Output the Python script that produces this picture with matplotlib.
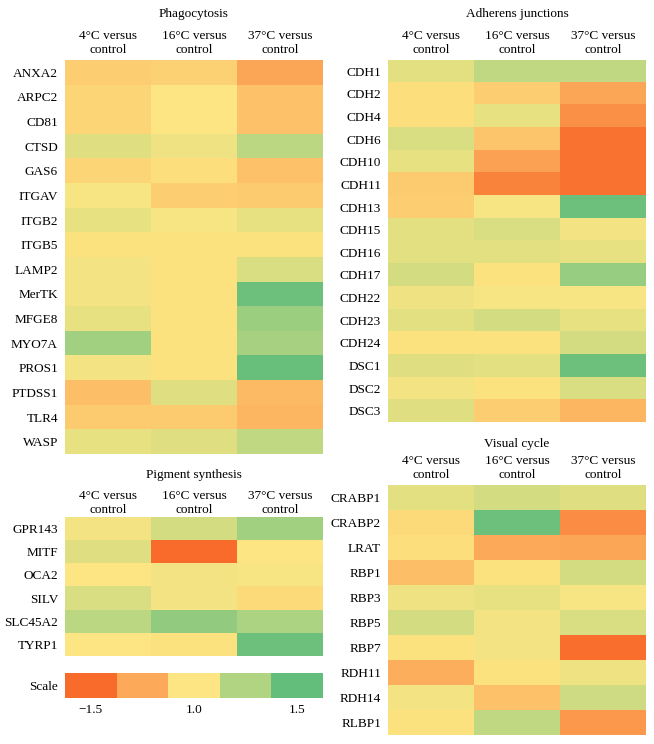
import numpy as np
import matplotlib
matplotlib.use("Agg")
import matplotlib.pyplot as plt
from matplotlib.colors import LinearSegmentedColormap

plt.rcParams['font.family'] = ['Liberation Serif', 'DejaVu Serif']
plt.rcParams['font.size'] = 9.5

W, H = 654, 744

columnas = ['4°C versus\ncontrol', '16°C versus\ncontrol', '37°C versus\ncontrol']

# valores: -1.5 = naranja (baja), 0 = amarillo (1.0), 1.5 = verde (sube)
genes_fago = ['ANXA2', 'ARPC2', 'CD81', 'CTSD', 'GAS6', 'ITGAV', 'ITGB2', 'ITGB5',
              'LAMP2', 'MerTK', 'MFGE8', 'MYO7A', 'PROS1', 'PTDSS1', 'TLR4', 'WASP']
val_fago = [[-0.30, -0.25, -0.80],
            [-0.20, 0.00, -0.45],
            [-0.20, 0.00, -0.45],
            [0.30, 0.15, 0.65],
            [-0.20, -0.10, -0.45],
            [0.05, -0.30, -0.35],
            [0.20, 0.05, 0.20],
            [-0.05, -0.05, -0.05],
            [0.10, -0.05, 0.35],
            [0.10, -0.05, 1.40],
            [0.20, -0.05, 0.95],
            [0.90, -0.05, 0.85],
            [0.10, -0.05, 1.45],
            [-0.50, 0.30, -0.55],
            [-0.35, -0.35, -0.60],
            [0.20, 0.30, 0.60]]

genes_adh = ['CDH1', 'CDH2', 'CDH4', 'CDH6', 'CDH10', 'CDH11', 'CDH13', 'CDH15',
             'CDH16', 'CDH17', 'CDH22', 'CDH23', 'CDH24', 'DSC1', 'DSC2', 'DSC3']
val_adh = [[0.25, 0.60, 0.60],
           [-0.10, -0.30, -0.80],
           [-0.10, 0.20, -1.05],
           [0.35, -0.40, -1.40],
           [0.20, -0.85, -1.40],
           [-0.35, -1.20, -1.40],
           [-0.30, 0.05, 1.40],
           [0.25, 0.35, 0.10],
           [0.25, 0.25, 0.20],
           [0.40, -0.05, 1.00],
           [0.15, 0.05, 0.05],
           [0.25, 0.40, 0.20],
           [-0.05, -0.05, 0.40],
           [0.30, 0.25, 1.40],
           [0.10, -0.05, 0.35],
           [0.30, -0.30, -0.60]]

genes_pig = ['GPR143', 'MITF', 'OCA2', 'SILV', 'SLC45A2', 'TYRP1']
val_pig = [[0.10, 0.40, 0.90],
           [0.30, -1.50, 0.00],
           [0.00, 0.10, 0.05],
           [0.35, 0.10, -0.15],
           [0.65, 1.05, 0.80],
           [0.00, -0.05, 1.40]]

genes_vis = ['CRABP1', 'CRABP2', 'LRAT', 'RBP1', 'RBP3', 'RBP5', 'RBP7', 'RDH11',
             'RDH14', 'RLBP1']
val_vis = [[0.25, 0.40, 0.30],
           [-0.15, 1.40, -1.10],
           [-0.10, -0.75, -0.80],
           [-0.50, -0.05, 0.40],
           [0.15, 0.20, 0.05],
           [0.40, 0.10, 0.35],
           [-0.05, 0.10, -1.45],
           [-0.70, -0.05, 0.15],
           [0.10, -0.45, 0.45],
           [-0.05, 0.60, -0.95]]

escala_val = [-1.5, -0.75, 0.0, 0.75, 1.5]
escala_etiquetas = ['\u22121.5', '1.0', '1.5']

cmap = LinearSegmentedColormap.from_list(
    'naranja_verde', ['#F96B2A', '#FCAA5A', '#FDE682', '#B2D583', '#63BE7B'])


def ejes_px(x0, y0, x1, y1):
    return plt.gcf().add_axes([x0 / W, 1 - y1 / H, (x1 - x0) / W, (y1 - y0) / H])


def dibujar_panel(caja, genes, valores, titulo, sep_titulo, pad_etq):
    ax = ejes_px(*caja)
    ax.imshow(np.array(valores), cmap=cmap, vmin=-1.5, vmax=1.5, aspect='auto',
              interpolation='nearest')
    ax.set_yticks(range(len(genes)))
    ax.set_yticklabels(genes)
    ax.set_xticks(range(3))
    ax.set_xticklabels(columnas, linespacing=1.2)
    ax.xaxis.tick_top()
    ax.tick_params(length=0, pad=pad_etq)
    ax.tick_params(axis='y', pad=5)
    for s in ax.spines.values():
        s.set_visible(False)
    ax.annotate(titulo, xy=(0.5, 1), xycoords='axes fraction',
                xytext=(0, sep_titulo * 0.72), textcoords='offset points',
                ha='center', va='center')
    return ax


fig = plt.figure(figsize=(W / 100, H / 100), dpi=100)

dibujar_panel((65, 60, 323, 454), genes_fago, val_fago, 'Phagocytosis', 46, 3)
dibujar_panel((388, 60, 646, 422), genes_adh, val_adh, 'Adherens junctions', 46, 3)
dibujar_panel((65, 517, 323, 656), genes_pig, val_pig, 'Pigment synthesis', 42, 1)
dibujar_panel((388, 485, 646, 735), genes_vis, val_vis, 'Visual cycle', 41, 3)

# barra de escala
ax = ejes_px(65, 673, 323, 698)
ax.imshow(np.array([escala_val]), cmap=cmap, vmin=-1.5, vmax=1.5, aspect='auto')
ax.set_yticks([0])
ax.set_yticklabels(['Scale'])
ax.set_xticks([0, 2, 4])
ax.set_xticklabels(escala_etiquetas)
ax.tick_params(length=0, pad=4)
ax.tick_params(axis='y', pad=5)
for s in ax.spines.values():
    s.set_visible(False)

fig.savefig('out.png', dpi=100)
